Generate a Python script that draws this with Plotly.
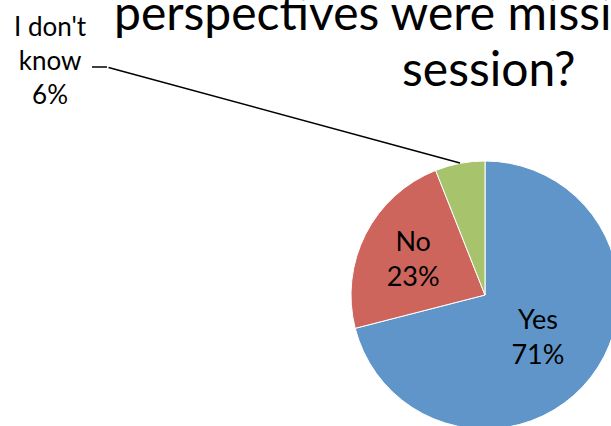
import plotly.graph_objects as go

# ---- data ----
labels = ["Yes", "No", "I don't know"]
values = [71, 23, 6]
colors = ["#5F95C9", "#CD655D", "#A7C36B"]
title_lines = ["perspectives were missing from this", "session?"]

W, H = 630, 440  # slightly larger than the window so the pie is cropped like the reference
FONT = "Lato, 'Noto Sans', sans-serif"

def px(x):
    return x / W

def py(y):
    return 1 - y / H

total = sum(values)
text_positions = ["inside", "inside", "none"]

fig = go.Figure(
    go.Pie(
        labels=labels,
        values=values,
        sort=False,
        direction="clockwise",
        rotation=0,
        marker=dict(colors=colors, line=dict(color="white", width=1)),
        textinfo="label+percent",
        textposition=text_positions,
        insidetextorientation="horizontal",
        textfont=dict(family=FONT, size=27, color="black"),
        domain=dict(x=[px(351), px(619)], y=[py(429), py(161)]),
        showlegend=False,
        hoverinfo="label+percent",
    )
)

# outside label for the small slice
small_label = labels[2].replace(" know", "<br>know") + "<br>" + f"{round(values[2] / total * 100)}%"
fig.add_annotation(
    x=px(50), y=py(60), xref="paper", yref="paper",
    text=small_label, showarrow=False,
    font=dict(family=FONT, size=26, color="black"),
    xanchor="center", yanchor="middle", align="center",
)
# leader line
fig.add_shape(type="line", xref="paper", yref="paper",
              x0=px(92), y0=py(67), x1=px(107), y1=py(67),
              line=dict(color="black", width=1.5))
fig.add_annotation(
    x=px(460), y=py(163), xref="paper", yref="paper",
    ax=107 - 460, ay=67 - 163, text="", showarrow=True,
    arrowhead=0, arrowwidth=1.5, arrowcolor="black",
)

# title (two lines placed separately to match the line spacing)
for line, yc in zip(title_lines, [12, 67]):
    fig.add_annotation(
        x=px(489), y=py(yc), xref="paper", yref="paper",
        text=line, showarrow=False,
        font=dict(family=FONT, size=48, color="black"),
        xanchor="center", yanchor="middle", align="center",
    )

fig.update_layout(
    width=W, height=H,
    margin=dict(l=0, r=0, t=0, b=0),
    paper_bgcolor="white", plot_bgcolor="white",
)

fig.write_html(
    "out.html",
    config={"displayModeBar": False},
    post_script="document.documentElement.style.overflow='hidden';document.body.style.overflow='hidden';document.body.style.margin='0';",
)
